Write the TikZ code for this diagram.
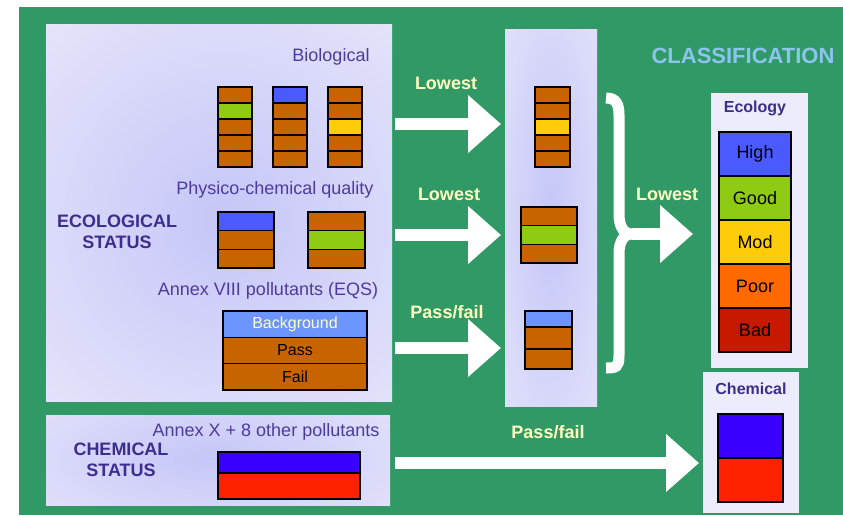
\documentclass[tikz,border=0pt]{standalone}
\usepackage{fontspec}
\setmainfont{Liberation Sans}
\usetikzlibrary{arrows.meta}
\usetikzlibrary{positioning}
\definecolor{greenbg}{HTML}{319966}
\definecolor{panelc}{HTML}{ECECFC}
\definecolor{glowc}{HTML}{C6C6F8}
\definecolor{brn}{HTML}{C86400}
\definecolor{grn}{HTML}{8FCB12}
\definecolor{blu}{HTML}{4A5AFF}
\definecolor{yel}{HTML}{FFCC0A}
\definecolor{ltblu}{HTML}{6D95FF}
\definecolor{chblu}{HTML}{3A00FF}
\definecolor{chred}{HTML}{FF2200}
\definecolor{orng}{HTML}{FF6A00}
\definecolor{dred}{HTML}{C81800}
\definecolor{purpc}{HTML}{4B3C9E}
\definecolor{purpd}{HTML}{3B2E8C}
\definecolor{labelc}{HTML}{FFFFC0}
\definecolor{classc}{HTML}{8CC4F0}
\pgfdeclareradialshading{purpleglow}{\pgfpoint{0bp}{0bp}}{color(0bp)=(glowc); color(26bp)=(panelc); color(50bp)=(panelc)}

\begin{document}
\begin{tikzpicture}[x=1pt, y=-1pt,
  panelbox/.style={fill=panelc, inner sep=0pt, outer sep=0pt, anchor=north west},
  cellbox/.style={draw=black, line width=1.3pt, inner sep=0pt, outer sep=0pt, anchor=north west},
  fatarrow/.style={draw=white, line width=12pt, -{Triangle[length=33pt,width=56pt]}},
  arrowlbl/.style={text=labelc, font=\bfseries\fontsize{18}{21}\selectfont},
  grouplbl/.style={text=purpc, font=\fontsize{18}{21}\selectfont},
  statuslbl/.style={text=purpd, align=center, font=\bfseries\fontsize{18}{21}\selectfont},
  classlbl/.style={text=purpd, font=\bfseries\fontsize{16}{19}\selectfont},
  celltext/.style={font=\fontsize{16}{19}\selectfont}]

\useasboundingbox (0,0) rectangle (843,515);
\fill[white] (0,0) rectangle (843,515);
\fill[greenbg] (19,7) rectangle (843,515);

\node[panelbox, minimum width=346pt, minimum height=377pt] (eco) at (46,24) {};
\node[panelbox, minimum width=344pt, minimum height=90pt] (chem) at (46,415) {};
\node[panelbox, minimum width=92pt, minimum height=377pt] (mid) at (505,29) {};
\node[panelbox, minimum width=97pt, minimum height=275pt] (ecol) at (711,93) {};
\node[panelbox, minimum width=96pt, minimum height=141pt] (chemcl) at (703,372) {};

\begin{scope}
\clip (eco.north west) rectangle (eco.south east);
\shade[shading=purpleglow] (225,220) circle (320pt);
\end{scope}
\begin{scope}
\clip (chem.north west) rectangle (chem.south east);
\shade[shading=purpleglow] (210,458) ellipse (300pt and 110pt);
\end{scope}
\begin{scope}
\clip (mid.north west) rectangle (mid.south east);
\shade[shading=purpleglow] (551,218) ellipse (90pt and 380pt);
\end{scope}

\node[grouplbl] (biolbl) at (331,57) {Biological};
\node[grouplbl] (phylbl) at (275,190) {Physico-chemical quality};
\node[grouplbl] (eqslbl) at (268,291) {Annex VIII pollutants (EQS)};
\node[grouplbl] (othlbl) at (266,432) {Annex X + 8 other pollutants};

\node[statuslbl] (ecostat) at (117,232) {ECOLOGICAL\\STATUS};
\node[statuslbl] (chemstat) at (121,460) {CHEMICAL\\STATUS};

\foreach \c [count=\i] in {brn,grn,brn,brn,brn}
  \node[cellbox, fill=\c, minimum width=34pt, minimum height=16pt] (bioa\i) at (218,{87+16*(\i-1)}) {};
\foreach \c [count=\i] in {blu,brn,brn,brn,brn}
  \node[cellbox, fill=\c, minimum width=34pt, minimum height=16pt] (biob\i) at (273,{87+16*(\i-1)}) {};
\foreach \c [count=\i] in {brn,brn,yel,brn,brn}
  \node[cellbox, fill=\c, minimum width=34pt, minimum height=16pt] (bioc\i) at (328,{87+16*(\i-1)}) {};

\foreach \c [count=\i] in {blu,brn,brn}
  \node[cellbox, fill=\c, minimum width=56pt, minimum height=18.7pt] (phya\i) at (218,{212+18.7*(\i-1)}) {};
\foreach \c [count=\i] in {brn,grn,brn}
  \node[cellbox, fill=\c, minimum width=57pt, minimum height=18.7pt] (phyb\i) at (308,{212+18.7*(\i-1)}) {};

\foreach \c/\t/\k [count=\i] in {ltblu/Background/labelc, brn/Pass/black, brn/Fail/black}
  \node[cellbox, celltext, fill=\c, text=\k, minimum width=144pt, minimum height=26.3pt] (eqs\i) at (223,{311+26.3*(\i-1)}) {\t};

\node[cellbox, fill=chblu, minimum width=142pt, minimum height=21pt] (oth1) at (218,452) {};
\node[cellbox, fill=chred, minimum width=142pt, minimum height=26pt] (oth2) at (218,473) {};

\foreach \c [count=\i] in {brn,brn,yel,brn,brn}
  \node[cellbox, fill=\c, minimum width=35pt, minimum height=16pt] (mida\i) at (535,{87+16*(\i-1)}) {};
\foreach \c [count=\i] in {brn,grn,brn}
  \node[cellbox, fill=\c, minimum width=56pt, minimum height=18.7pt] (midb\i) at (521,{207+18.7*(\i-1)}) {};
\node[cellbox, fill=ltblu, minimum width=47pt, minimum height=16pt] (midc1) at (525,311) {};
\node[cellbox, fill=brn, minimum width=47pt, minimum height=22pt] (midc2) at (525,327) {};
\node[cellbox, fill=brn, minimum width=47pt, minimum height=20pt] (midc3) at (525,349) {};

\node[text=classc, font=\bfseries\fontsize{22}{26}\selectfont] (classhd) at (743,56) {CLASSIFICATION};
\node[classlbl] (ecolhd) at (755,108) {Ecology};
\node[classlbl] (chemhd) at (751,389) {Chemical};

\foreach \c/\t [count=\i] in {blu/High, grn/Good, yel/Mod, orng/Poor, dred/Bad}
  \node[cellbox, fill=\c, font=\fontsize{18}{21}\selectfont, minimum width=72pt, minimum height=44pt] (cls\i) at (719,{132+44*(\i-1)}) {\t};

\node[cellbox, fill=chblu, minimum width=65pt, minimum height=44pt] (chcl1) at (718,414) {};
\node[cellbox, fill=chred, minimum width=65pt, minimum height=44pt] (chcl2) at (718,458) {};

\draw[fatarrow, shorten <=3pt, shorten >=4pt] (eco.east |- 0,124) -- (mid.west |- 0,124);
\draw[fatarrow, shorten <=3pt, shorten >=4pt] (eco.east |- 0,235) -- (mid.west |- 0,235);
\draw[fatarrow, shorten <=3pt, shorten >=4pt] (eco.east |- 0,348) -- (mid.west |- 0,348);
\draw[fatarrow, shorten <=5pt, shorten >=4pt] (chem.east |- 0,463) -- (chemcl.west |- 0,463);

\coordinate (bracetip) at (632,234);
\draw[white, line width=11pt] (606,98) .. controls (616,98) and (619,104) .. (619,115) -- (619,214) .. controls (619,227) and (624,234) .. (bracetip);
\draw[white, line width=11pt] (bracetip) .. controls (624,234) and (619,241) .. (619,254) -- (619,356) .. controls (619,367) and (616,368) .. (606,368);
\draw[fatarrow, shorten >=18pt] (bracetip) -- (ecol.west |- bracetip);

\node[arrowlbl] (low1) at (446,83) {Lowest};
\node[arrowlbl] (low2) at (449,194) {Lowest};
\node[arrowlbl] (pf1) at (447,312) {Pass/fail};
\node[arrowlbl] (pf2) at (548,432) {Pass/fail};
\node[arrowlbl] (low3) at (667,194) {Lowest};

\end{tikzpicture}
\end{document}
